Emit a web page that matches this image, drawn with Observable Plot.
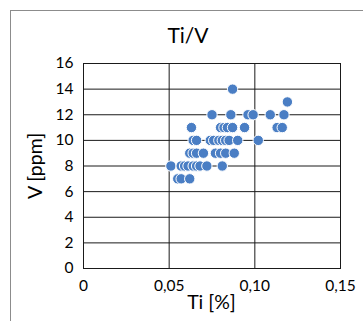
<!DOCTYPE html>
<html>
<head>
<meta charset="utf-8">
<script src="https://cdn.jsdelivr.net/npm/d3@7"></script>
<script src="https://cdn.jsdelivr.net/npm/@observablehq/plot@0.6"></script>
<style>
  html, body { margin: 0; padding: 0; background: #fff; overflow: hidden; }
  #wrap { position: relative; width: 363px; height: 321px; overflow: hidden; font-family: Lato, "Liberation Sans", sans-serif; color: #000; }
  #border { position: absolute; left: 10px; top: 10px; width: 420px; height: 420px; border: 1px solid #8c8c8c; box-sizing: border-box; }
  #title { position: absolute; left: 0; width: 376px; top: 22px; text-align: center; font-size: 21px; }
  #xlabel { position: absolute; left: 83px; width: 257px; top: 290px; text-align: center; font-size: 19.5px; }
  #ylabel { position: absolute; left: 34px; top: 166px; transform: translate(-50%, -50%) rotate(-90deg); font-size: 19.5px; white-space: nowrap; }
  #chart { position: absolute; left: 0; top: 0; }
</style>
</head>
<body>
<div id="wrap">
  <div id="border"></div>
  <div id="chart"></div>
  <div id="title"></div>
  <div id="xlabel"></div>
  <div id="ylabel"></div>
</div>
<script>
const titleText = "Ti/V";
const xLabel = "Ti [%]";
const yLabel = "V [ppm]";

const xTicks = [0, 0.05, 0.10, 0.15];
const xTickLabels = ["0", "0,05", "0,10", "0,15"];
const yTicks = [0, 2, 4, 6, 8, 10, 12, 14, 16];

// Ti [%] values and matching V [ppm] values
const ti = [
  0.055, 0.057, 0.062,
  0.051, 0.057, 0.059, 0.061, 0.064, 0.066, 0.068, 0.072, 0.081,
  0.062, 0.064, 0.066, 0.070, 0.077, 0.080, 0.083, 0.088,
  0.064, 0.066, 0.074, 0.076, 0.079, 0.081, 0.083, 0.085, 0.090, 0.102,
  0.063, 0.080, 0.082, 0.084, 0.087, 0.094, 0.113, 0.116,
  0.075, 0.086, 0.096, 0.099, 0.109, 0.117,
  0.119,
  0.087
];
const v = [
  7, 7, 7,
  8, 8, 8, 8, 8, 8, 8, 8, 8,
  9, 9, 9, 9, 9, 9, 9, 9,
  10, 10, 10, 10, 10, 10, 10, 10, 10, 10,
  11, 11, 11, 11, 11, 11, 11, 11,
  12, 12, 12, 12, 12, 12,
  13,
  14
];

const data = ti.map((t, i) => ({ti: t, v: v[i]}));
const gridColor = "#1a1a1a";

const chart = Plot.plot({
  width: 363,
  height: 321,
  marginLeft: 83,
  marginRight: 23,
  marginTop: 63,
  marginBottom: 53,
  style: { fontFamily: "Lato, 'Liberation Sans', sans-serif", fontSize: "15.5px", color: "#000", background: "transparent" },
  x: { domain: [0, 0.15], ticks: xTicks, tickFormat: (d) => xTickLabels[xTicks.indexOf(d)], tickSize: 0, tickPadding: 11, label: null },
  y: { domain: [0, 16], ticks: yTicks, tickSize: 0, tickPadding: 10, label: null },
  marks: [
    Plot.gridY(yTicks, { stroke: gridColor, strokeOpacity: 1 }),
    Plot.gridX(xTicks, { stroke: gridColor, strokeOpacity: 1 }),
    Plot.frame({ stroke: gridColor }),
    Plot.dot(data, { x: "ti", y: "v", r: 5.2, fill: "#4a7ec4", stroke: "#fff", strokeWidth: 1 })
  ]
});
document.getElementById("chart").appendChild(chart);
document.getElementById("title").textContent = titleText;
document.getElementById("xlabel").textContent = xLabel;
document.getElementById("ylabel").textContent = yLabel;
</script>
</body>
</html>
